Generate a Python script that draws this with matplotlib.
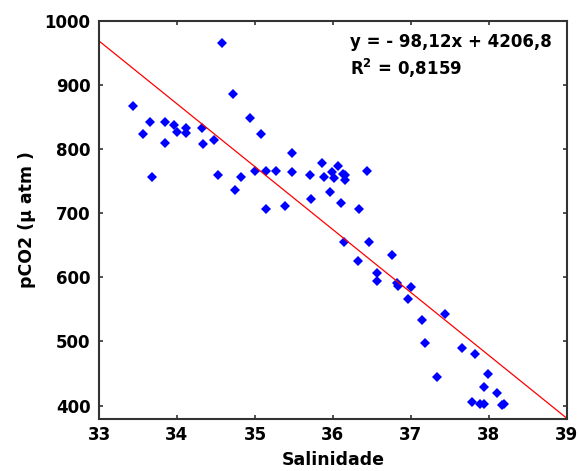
import matplotlib
matplotlib.use("Agg")
import matplotlib.pyplot as plt
import numpy as np

plt.rcParams['font.family'] = ['DejaVu Sans']
plt.rcParams['mathtext.fontset'] = 'dejavusans'

# Salinity and pCO2 observations
salinidade = [
    33.44, 33.56, 33.66, 33.68, 33.84, 33.84, 33.96, 34.00, 34.12, 34.12,
    34.32, 34.34, 34.48, 34.52, 34.58, 34.72, 34.74, 34.82, 34.94, 35.00,
    35.08, 35.14, 35.14, 35.27, 35.38, 35.47, 35.48, 35.70, 35.72, 35.86,
    35.88, 35.96, 35.99, 36.02, 36.06, 36.10, 36.13, 36.16, 36.16, 36.34,
    36.44, 36.14, 36.32, 36.46, 36.56, 36.56, 36.76, 36.82, 36.84, 37.00,
    36.96, 37.14, 37.18, 37.44, 37.34, 37.66, 37.82, 37.99, 37.94, 38.10,
    37.79, 37.89, 37.94, 38.17, 38.20,
]
pco2 = [
    868, 823, 842, 756, 842, 810, 837, 827, 833, 826,
    833, 808, 815, 759, 966, 886, 737, 757, 849, 766,
    823, 766, 706, 766, 711, 794, 764, 760, 723, 779,
    757, 733, 764, 755, 773, 716, 761, 760, 752, 706,
    766, 655, 626, 655, 607, 594, 635, 591, 587, 585,
    567, 533, 497, 543, 444, 490, 480, 449, 429, 419,
    405, 403, 403, 401, 403,
]

# Linear fit reported on the chart
slope = -98.12
intercept = 4206.8
r2 = 0.8159

x_ticks = [33, 34, 35, 36, 37, 38, 39]
y_ticks = [400, 500, 600, 700, 800, 900, 1000]

fig = plt.figure(figsize=(5.79, 4.71), dpi=100)
ax = fig.add_axes([0.171, 0.1104, 0.808, 0.845])

ax.plot(salinidade, pco2, linestyle='none', marker='D', markersize=4.6,
        color='#0000ff', markeredgewidth=0)

xl = np.array([33.0, 39.0])
ax.plot(xl, slope * xl + intercept, color='#ff0000', linewidth=0.9)

ax.set_xlim(33, 39)
ax.set_ylim(379, 1000)
ax.set_xticks(x_ticks)
ax.set_yticks(y_ticks)
ax.tick_params(direction='in', length=3, width=1.2, top=True, right=True,
               labelsize=12, colors='#333333', labelcolor='black')
ax.tick_params(axis='x', pad=5)
ax.tick_params(axis='y', pad=6)
for lab in ax.get_xticklabels() + ax.get_yticklabels():
    lab.set_fontweight('bold')
for sp in ax.spines.values():
    sp.set_linewidth(1.5)
    sp.set_color('#333333')

ax.set_xlabel('Salinidade', fontsize=12.5, fontweight='bold', labelpad=5)
ax.set_ylabel('pCO2 (µ atm )', fontsize=12.5, fontweight='bold', labelpad=6)

eq = 'y = - {:.2f}x + {:.1f}'.format(-slope, intercept).replace('.', ',')
ax.text(0.536, 0.935, eq, transform=ax.transAxes, fontsize=12,
        fontweight='bold', va='baseline', ha='left')
ax.text(0.536, 0.864, '$\\mathbf{R^2}$ = ' + '{:.4f}'.format(r2).replace('.', ','),
        transform=ax.transAxes, fontsize=12, fontweight='bold',
        va='baseline', ha='left')

fig.savefig('out.png', dpi=100)
